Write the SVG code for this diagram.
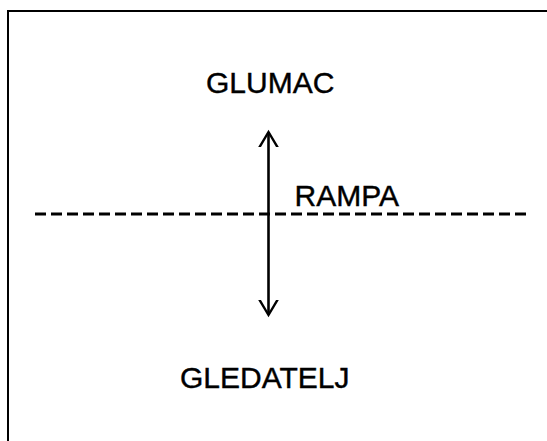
<svg xmlns="http://www.w3.org/2000/svg" width="547" height="441" viewBox="0 0 547 441">
<style>
.t{font-family:"Liberation Sans",Arial,sans-serif;font-size:30px;fill:#000;stroke:#000;stroke-width:0.4}
.ln{stroke:#000;fill:none}
</style>
<defs>
<marker id="ah" markerUnits="userSpaceOnUse" markerWidth="30" markerHeight="30" viewBox="-15 -15 30 30" refX="0" refY="0" orient="auto-start-reverse">
<path d="M-16,-9.5 L0,0 L-16,9.5" fill="none" stroke="#000" stroke-width="2.4"/>
</marker>
</defs>
<rect width="547" height="441" fill="#fff"/>
<path class="ln" d="M8,441 V11 H547" stroke-width="2"/>
<g id="glumac"><text class="t" x="206" y="93">GLUMAC</text></g>
<g id="rampa">
<line class="ln" x1="35" y1="214" x2="526" y2="214" stroke-width="3" stroke-dasharray="11 5"/>
<text class="t" x="294.5" y="206">RAMPA</text>
</g>
<g id="gledatelj"><text class="t" x="180" y="388">GLEDATELJ</text></g>
<g id="connectors">
<line class="ln" x1="268.5" y1="132" x2="268.5" y2="315" stroke-width="2.6" marker-start="url(#ah)" marker-end="url(#ah)"/>
</g>
</svg>
